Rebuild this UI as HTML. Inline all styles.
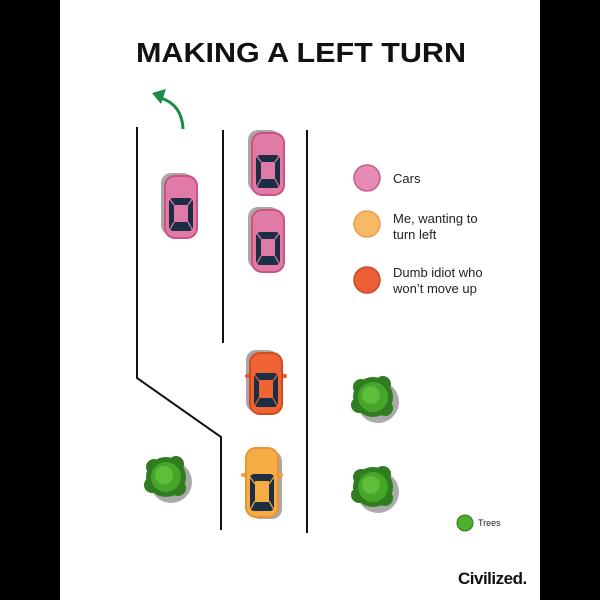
<!DOCTYPE html>
<html><head><meta charset="utf-8"><style>
html,body{margin:0;padding:0;background:#000;}
svg{display:block}
</style></head><body>
<svg width="600" height="600" viewBox="0 0 600 600" xmlns="http://www.w3.org/2000/svg" font-family="Liberation Sans, sans-serif">
<rect x="0" y="0" width="600" height="600" fill="#000"/>
<rect x="60" y="0" width="480" height="600" fill="#fff"/>
<text x="301" y="62" text-anchor="middle" font-size="28" font-weight="bold" fill="#111" textLength="330" lengthAdjust="spacingAndGlyphs">MAKING A LEFT TURN</text>
<path d="M183 129 Q182 105 161 98" fill="none" stroke="#1e8a4a" stroke-width="3"/>
<path d="M152 93 L166 89 L161 104 Z" fill="#1e8a4a"/>
<g stroke="#111" stroke-width="2" fill="none">
<polyline points="137,127 137,378 221,437 221,530"/>
<line x1="223" y1="130" x2="223" y2="343"/>
<line x1="307" y1="130" x2="307" y2="533"/>
</g>
<defs>
<g id="spk" stroke-width="1.2">
<line x1="-12" y1="-9" x2="-7" y2="-2"/><line x1="12" y1="-9" x2="7" y2="-2"/><line x1="-12" y1="24" x2="-7" y2="15"/><line x1="12" y1="24" x2="7" y2="15"/>
</g>
<g id="tree">
<circle cx="5" cy="5" r="21" fill="#aaa"/>
<circle cx="0" cy="0" r="20" fill="#2f7d1f"/>
<circle cx="-12" cy="-10" r="8" fill="#2f7d1f"/><circle cx="10" cy="-13" r="8" fill="#2f7d1f"/><circle cx="-14" cy="8" r="8" fill="#2f7d1f"/><circle cx="12" cy="11" r="8" fill="#2f7d1f"/>
<circle cx="0" cy="0" r="15" fill="#47a52c"/>
<circle cx="-2" cy="-2" r="9" fill="#5cbf3a"/>
</g>
</defs>
<g transform="translate(181,207)">
<rect x="-20" y="-34" width="32" height="62" rx="10" fill="#a8a8a8"/>
<rect x="-16" y="-31" width="32" height="62" rx="10" fill="#e07aa6" stroke="#d0507f" stroke-width="2"/>
<rect x="-12" y="-9" width="24" height="33" rx="4" fill="#1c2e44"/>
<rect x="-7" y="-2" width="14" height="17" fill="#e07aa6"/>
<use href="#spk" stroke="#e07aa6"/>
</g>
<g transform="translate(268,164)">
<rect x="-20" y="-34" width="32" height="62" rx="10" fill="#a8a8a8"/>
<rect x="-16" y="-31" width="32" height="62" rx="10" fill="#e07aa6" stroke="#d0507f" stroke-width="2"/>
<rect x="-12" y="-9" width="24" height="33" rx="4" fill="#1c2e44"/>
<rect x="-7" y="-2" width="14" height="17" fill="#e07aa6"/>
<use href="#spk" stroke="#e07aa6"/>
</g>
<g transform="translate(268,241)">
<rect x="-20" y="-34" width="32" height="62" rx="10" fill="#a8a8a8"/>
<rect x="-16" y="-31" width="32" height="62" rx="10" fill="#e07aa6" stroke="#d0507f" stroke-width="2"/>
<rect x="-12" y="-9" width="24" height="33" rx="4" fill="#1c2e44"/>
<rect x="-7" y="-2" width="14" height="17" fill="#e07aa6"/>
<use href="#spk" stroke="#e07aa6"/>
</g>
<g transform="translate(266,383)">
<rect x="-20" y="-33" width="32" height="62" rx="10" fill="#a8a8a8"/>
<rect x="-21" y="-9" width="42" height="4" rx="2" fill="#e85a2c"/>
<rect x="-16" y="-30" width="32" height="61" rx="10" fill="#ee6434" stroke="#d44a20" stroke-width="2"/>
<rect x="-12" y="-10" width="24" height="34" rx="4" fill="#1c2e44"/>
<rect x="-7" y="-3" width="14" height="18" fill="#ee6434"/>
<use href="#spk" stroke="#ee6434"/>
</g>
<g transform="translate(262,484)">
<rect x="-12" y="-33" width="32" height="68" rx="10" fill="#a8a8a8"/>
<rect x="-21" y="-11" width="42" height="4" rx="2" fill="#f2a338"/>
<rect x="-16" y="-36" width="32" height="69" rx="10" fill="#f7ab44" stroke="#e89530" stroke-width="2"/>
<rect x="-12" y="-10" width="24" height="37" rx="4" fill="#1c2e44"/>
<rect x="-7" y="-3" width="14" height="21" fill="#f7ab44"/>
<g transform="translate(0,2)"><use href="#spk" stroke="#f7ab44"/></g>
</g>
<use href="#tree" x="166" y="477"/>
<use href="#tree" x="373" y="397"/>
<use href="#tree" x="373" y="487"/>
<circle cx="367" cy="178" r="13" fill="#e58bb6" stroke="#c85a8c" stroke-width="1.5"/>
<circle cx="367" cy="224" r="13" fill="#f7b966" stroke="#e8a050" stroke-width="1.5"/>
<circle cx="367" cy="280" r="13" fill="#ec5f36" stroke="#c84a24" stroke-width="1.5"/>
<g font-size="13" fill="#222">
<text x="393" y="183">Cars</text>
<text x="393" y="223">Me, wanting to</text>
<text x="393" y="239">turn left</text>
<text x="393" y="277">Dumb idiot who</text>
<text x="393" y="293">won’t move up</text>
</g>
<circle cx="465" cy="523" r="8" fill="#4caf30" stroke="#2e7a1c" stroke-width="1"/>
<text x="478" y="526" font-size="9" fill="#222">Trees</text>
<text x="458" y="584" font-size="17" font-weight="bold" fill="#111" letter-spacing="-0.5">Civilized.</text>
</svg>
</body></html>
